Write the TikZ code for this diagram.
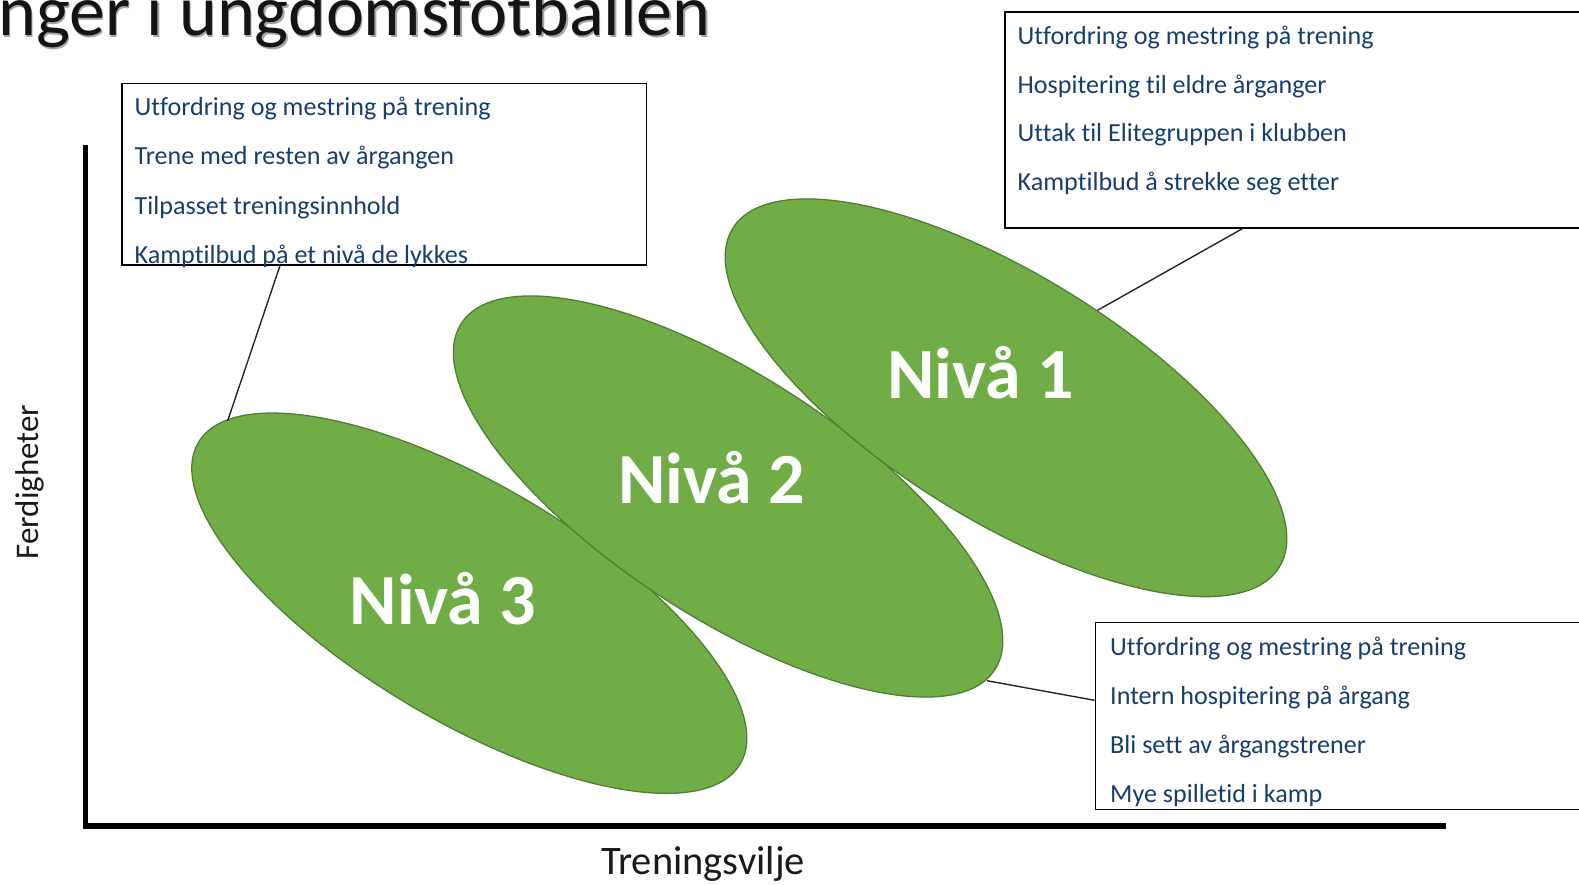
\documentclass[tikz,border=0pt]{standalone}
\usepackage{fontspec}
\setmainfont{Carlito}[Ligatures=NoCommon]
\usetikzlibrary{shapes.geometric,calc}
\definecolor{lvlfill}{HTML}{70AD47}
\definecolor{lvldraw}{HTML}{507E32}
\definecolor{boxtext}{HTML}{173F6B}
\definecolor{axtext}{HTML}{1A1A1A}
\begin{document}
\begin{tikzpicture}[x=1pt,y=-1pt,
  lvl/.style={ellipse, fill=lvlfill, draw=lvldraw, line width=1.3pt, inner sep=0pt},
  lvltext/.style={font=\fontsize{72}{80}\selectfont\bfseries, text=white, inner sep=0pt, anchor=base},
  frame/.style={draw=black, line width=1.8pt, inner sep=0pt, anchor=north west},
  item/.style={font=\fontsize{26.1}{30}\selectfont, text=boxtext, inner sep=0pt, anchor=base west},
  link/.style={draw=black!85, line width=1.4pt},
  axisline/.style={line width=5.6pt, draw=black},
  titletext/.style={font=\fontsize{72}{80}\selectfont, inner sep=0pt, anchor=base west}]
\useasboundingbox (0,0) rectangle (1579,884);
\begin{scope}
\clip (0,0) rectangle (1579,884);
% title (cropped at the top, as in the reference)
\node[titletext, text=black!35] (titleshadow) at (-0.5,37.5) {nger i ungdomsfotballen};
\node[titletext, text=black!92] (title) at (-2,35.5) {nger i ungdomsfotballen};
% axes
\coordinate (ytop) at (85.5,145);
\coordinate (origin) at (85.5,826);
\coordinate (xend) at (1445.7,826);
\draw[axisline] (ytop) -- (origin) -- (xend);
% levels
\node[lvl, minimum width=630pt, minimum height=236pt, rotate=-30.7] (e3) at (469.3,603.2) {};
\node[lvl, minimum width=636pt, minimum height=241pt, rotate=-33] (e2) at (728.1,496.5) {};
\node[lvl, minimum width=643pt, minimum height=245pt, rotate=-31.8] (e1) at (1006,397.8) {};
\node[lvltext] (l1) at (980.3,398.8) {Nivå 1};
\node[lvltext] (l2) at (711.5,503.5) {Nivå 2};
\node[lvltext] (l3) at (443,624.3) {Nivå 3};
% boxes
\node[frame, minimum width=524.7pt, minimum height=181.2pt] (boxA) at (120.8,82.6) {};
\node[frame, minimum width=700pt, minimum height=216pt] (boxB) at (1004,10.7) {};
\node[frame, minimum width=600pt, minimum height=187pt] (boxC) at (1094.6,621.5) {};
\node[item] (a1) at (134.5,115.5) {Utfordring og mestring på trening};
\node[item] (a2) at (134.5,164.8) {Trene med resten av årgangen};
\node[item] (a3) at (134.5,214) {Tilpasset treningsinnhold};
\node[item] (a4) at (134.5,263.3) {Kamptilbud på et nivå de lykkes};
\node[item] (b1) at (1017.5,44.8) {Utfordring og mestring på trening};
\node[item] (b2) at (1017.5,93.3) {Hospitering til eldre årganger};
\node[item] (b3) at (1017.5,141.8) {Uttak til Elitegruppen i klubben};
\node[item] (b4) at (1017.5,190.3) {Kamptilbud å strekke seg etter};
\node[item] (c1) at (1110,655) {Utfordring og mestring på trening};
\node[item] (c2) at (1110,704) {Intern hospitering på årgang};
\node[item] (c3) at (1110,753) {Bli sett av årgangstrener};
\node[item] (c4) at (1110,802) {Mye spilletid i kamp};
% connectors
\coordinate (p3) at (227.6,421);
\coordinate (p1) at (1097.7,310.2);
\coordinate (p2) at (986.9,680.7);
\draw[link] ($(boxA.south west)+(159.2,0)$) -- (p3);
\draw[link] ($(boxB.south west)+(238.7,0)$) -- (p1);
\draw[link] (p2) -- ($(boxC.north west)+(0,78.8)$);
% axis labels
\node[font=\fontsize{40.5}{48}\selectfont, text=axtext, inner sep=0pt, anchor=base] (xlabel) at (703,874) {Treningsvilje};
\node[font=\fontsize{33}{40}\selectfont, text=axtext, inner sep=0pt, anchor=base, rotate=90] (ylabel) at (38,482) {Ferdigheter};
\end{scope}
\end{tikzpicture}
\end{document}
